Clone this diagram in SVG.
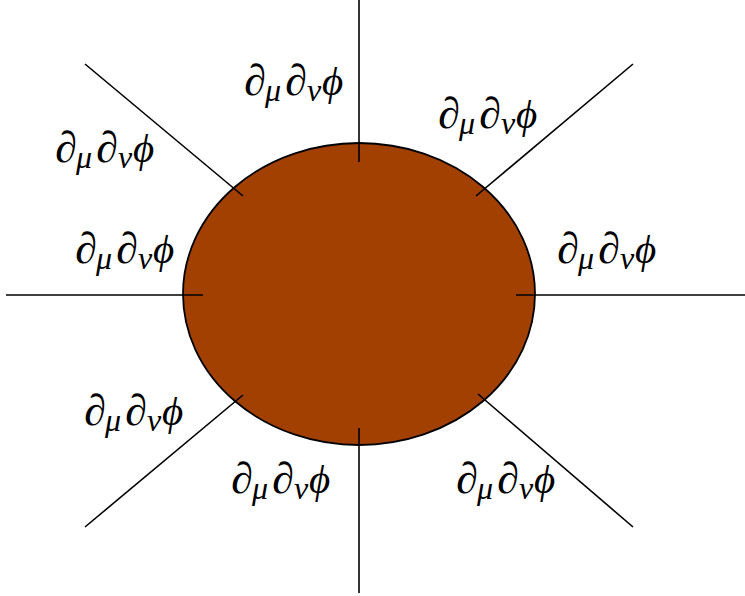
<svg xmlns="http://www.w3.org/2000/svg" width="745" height="596" viewBox="0 0 745 596">
<style>
.lbl{font-family:"Liberation Serif","DejaVu Serif",serif;font-style:italic;font-size:44px;fill:#000}
.sub{font-size:32px}
.phi{font-size:41px}
.ln{stroke:#000;stroke-width:1.6;fill:none}
</style>
<defs>
<g id="lab"><text class="lbl" x="0" y="0">∂<tspan class="sub" x="21" dy="6">μ</tspan><tspan x="41" dy="-6">∂</tspan><tspan class="sub" x="63" dy="6">ν</tspan><tspan class="phi" x="78" dy="-6">ϕ</tspan></text></g>
</defs>
<rect width="745" height="596" fill="#fff"/>
<g id="blob"><ellipse cx="359" cy="294" rx="176" ry="151" fill="#a14000" stroke="#000" stroke-width="1.8"/></g>
<g id="connectors">
<line class="ln" x1="359" y1="0" x2="359" y2="162"/>
<line class="ln" x1="359" y1="428" x2="359" y2="593"/>
<line class="ln" x1="6" y1="295" x2="203" y2="295"/>
<line class="ln" x1="516" y1="295" x2="745" y2="295"/>
<line class="ln" x1="85" y1="64" x2="243" y2="196"/>
<line class="ln" x1="633" y1="64" x2="476" y2="196"/>
<line class="ln" x1="85" y1="527" x2="243" y2="395"/>
<line class="ln" x1="633" y1="527" x2="478" y2="394"/>
</g>
<g id="label-top"><use href="#lab" x="244" y="95"/></g>
<g id="label-topright"><use href="#lab" x="438" y="128"/></g>
<g id="label-upperleft"><use href="#lab" x="55" y="162"/></g>
<g id="label-left"><use href="#lab" x="75" y="263"/></g>
<g id="label-right"><use href="#lab" x="557" y="263"/></g>
<g id="label-lowerleft"><use href="#lab" x="84" y="425"/></g>
<g id="label-bottom"><use href="#lab" x="231" y="493"/></g>
<g id="label-bottomright"><use href="#lab" x="456" y="493"/></g>
</svg>
